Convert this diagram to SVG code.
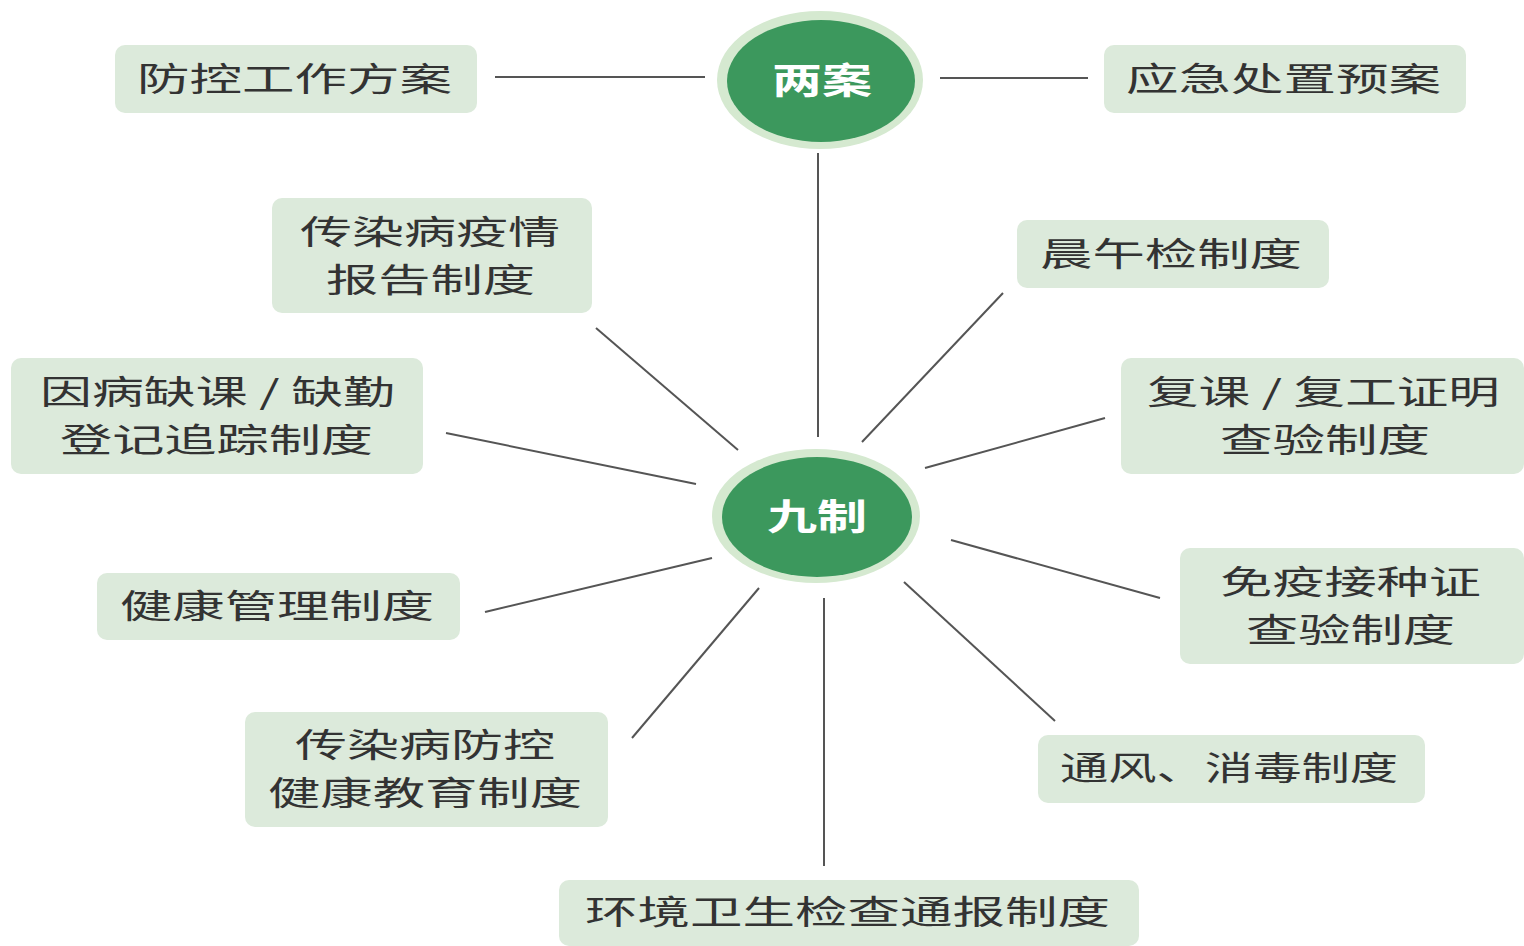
<svg xmlns="http://www.w3.org/2000/svg" width="1524" height="946" viewBox="0 0 1524 946">
<style>
.box{fill:#dceadb;}
.t{font-family:"Noto Sans CJK SC","Noto Sans CJK TC",sans-serif;font-size:33px;fill:#333;}
.c{font-family:"Noto Sans CJK SC",sans-serif;font-size:36px;font-weight:bold;fill:#fff;}
.ring{fill:#d5e9d0;}
.core{fill:#3c985d;}
.ln line{stroke:#555;stroke-width:2;}
</style>
<rect width="1524" height="946" fill="#fff"/>
<g id="connectors" class="ln">
<line x1="495" y1="77" x2="705" y2="77"/>
<line x1="940" y1="78" x2="1088" y2="78"/>
<line x1="818" y1="153" x2="818" y2="437"/>
<line x1="596" y1="328" x2="738" y2="450"/>
<line x1="1003" y1="293" x2="862" y2="442"/>
<line x1="446" y1="433" x2="696" y2="484"/>
<line x1="1105" y1="418" x2="925" y2="468"/>
<line x1="485" y1="612" x2="712" y2="558"/>
<line x1="951" y1="540" x2="1160" y2="598"/>
<line x1="632" y1="738" x2="759" y2="588"/>
<line x1="904" y1="582" x2="1055" y2="721"/>
<line x1="824" y1="598" x2="824" y2="866"/>
</g>
<g id="liangan">
<ellipse class="ring" cx="820" cy="80" rx="103" ry="69"/>
<ellipse class="core" cx="821" cy="81" rx="94" ry="61"/>
<text class="c" x="772" y="94" textLength="100" lengthAdjust="spacingAndGlyphs">两案</text>
</g>
<g id="jiuzhi">
<ellipse class="ring" cx="816" cy="516" rx="104" ry="67"/>
<ellipse class="core" cx="817" cy="517" rx="95" ry="60"/>
<text class="c" x="767" y="530" textLength="100" lengthAdjust="spacingAndGlyphs">九制</text>
</g>
<g id="n1"><rect class="box" x="115" y="45" width="362" height="68" rx="10"/><text class="t" x="137" y="91" textLength="315" lengthAdjust="spacingAndGlyphs">防控工作方案</text></g>
<g id="n2"><rect class="box" x="1104" y="45" width="362" height="68" rx="10"/><text class="t" x="1126" y="91" textLength="315" lengthAdjust="spacingAndGlyphs">应急处置预案</text></g>
<g id="n3"><rect class="box" x="272" y="198" width="320" height="115" rx="10"/><text class="t" x="300" y="244" textLength="260" lengthAdjust="spacingAndGlyphs">传染病疫情</text><text class="t" x="326" y="292" textLength="209" lengthAdjust="spacingAndGlyphs">报告制度</text></g>
<g id="n4"><rect class="box" x="1017" y="220" width="312" height="68" rx="10"/><text class="t" x="1040" y="266" textLength="262" lengthAdjust="spacingAndGlyphs">晨午检制度</text></g>
<g id="n5"><rect class="box" x="11" y="358" width="412" height="116" rx="10"/><text class="t" x="40" y="404" textLength="355" lengthAdjust="spacingAndGlyphs">因病缺课 / 缺勤</text><text class="t" x="60" y="452" textLength="313" lengthAdjust="spacingAndGlyphs">登记追踪制度</text></g>
<g id="n6"><rect class="box" x="1121" y="358" width="403" height="116" rx="10"/><text class="t" x="1147" y="404" textLength="353" lengthAdjust="spacingAndGlyphs">复课 / 复工证明</text><text class="t" x="1220" y="452" textLength="210" lengthAdjust="spacingAndGlyphs">查验制度</text></g>
<g id="n7"><rect class="box" x="97" y="573" width="363" height="67" rx="10"/><text class="t" x="120" y="618" textLength="314" lengthAdjust="spacingAndGlyphs">健康管理制度</text></g>
<g id="n8"><rect class="box" x="1180" y="548" width="344" height="116" rx="10"/><text class="t" x="1220" y="594" textLength="261" lengthAdjust="spacingAndGlyphs">免疫接种证</text><text class="t" x="1246" y="642" textLength="209" lengthAdjust="spacingAndGlyphs">查验制度</text></g>
<g id="n9"><rect class="box" x="245" y="712" width="363" height="115" rx="10"/><text class="t" x="295" y="757" textLength="260" lengthAdjust="spacingAndGlyphs">传染病防控</text><text class="t" x="268" y="805" textLength="314" lengthAdjust="spacingAndGlyphs">健康教育制度</text></g>
<g id="n10"><rect class="box" x="1038" y="735" width="387" height="68" rx="10"/><text class="t" x="1060" y="780" textLength="338" lengthAdjust="spacingAndGlyphs">通风、消毒制度</text></g>
<g id="n11"><rect class="box" x="559" y="880" width="580" height="66" rx="10"/><text class="t" x="585" y="924" textLength="525" lengthAdjust="spacingAndGlyphs">环境卫生检查通报制度</text></g>
</svg>
